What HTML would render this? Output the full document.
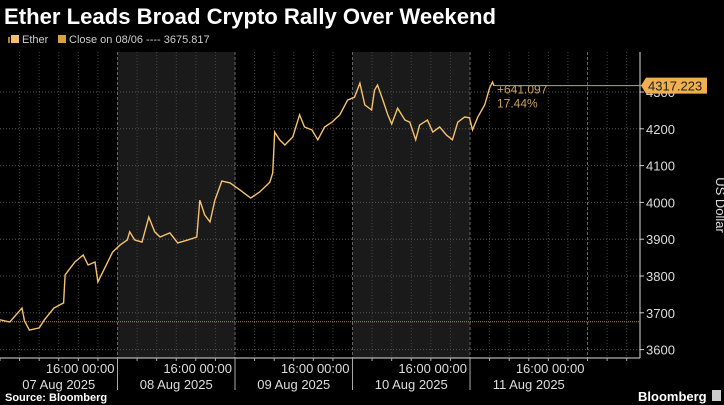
<!DOCTYPE html>
<html><head><meta charset="utf-8"><style>
body{margin:0;background:#000;width:724px;height:405px;overflow:hidden;font-family:"Liberation Sans",sans-serif}
svg{display:block}
</style></head><body>
<svg id="c" width="724" height="405" xmlns="http://www.w3.org/2000/svg">
<text x="4" y="24" fill="#fff" font-size="22" font-weight="bold" textLength="492" lengthAdjust="spacingAndGlyphs">Ether Leads Broad Crypto Rally Over Weekend</text>
<g font-size="11" fill="#ccc">
<rect x="8" y="37" width="2" height="6" fill="#b08040"/>
<rect x="11" y="35" width="8" height="8" fill="#f0c070"/>
<text x="22" y="43">Ether</text>
<rect x="58" y="35" width="8" height="8" fill="#d9a040"/>
<text x="69" y="43">Close on 08/06 ---- 3675.817</text>
</g>
<g id="plot"></g>
<text x="5" y="401" fill="#fff" font-size="11" font-weight="bold">Source: Bloomberg</text>
<text x="638" y="401" fill="#fff" font-size="13" font-weight="bold">Bloomberg</text>
<rect x="712" y="390" width="9" height="11" fill="#ccc"/>
</svg>
<script>
const hours=[0,2,4.5,5,6,8,9,11,13,13.3,15.3,17,18,19.4,20,21.4,23,24.5,26,26.5,27.5,29,30.4,31.6,32.7,34.7,36.3,38.4,40.2,40.8,41.8,42.9,43.9,45.3,47,49,51.2,53,55.1,55.7,56.1,57.1,58.2,59.8,61.2,62.2,63.7,64.9,66.3,67.8,69.4,71,72.4,73.5,74.5,75.9,76.5,77.1,78.2,79.2,80,81.2,82.7,83.7,84.9,85.7,87.3,88.4,89.8,91.2,92.4,93.5,94.9,95.9,96.5,97.6,99,100,100.6,100.9];
const prices=[3681,3675,3713,3678,3653,3659,3680,3713,3727,3803,3838,3857,3830,3838,3784,3822,3865,3884,3898,3920,3898,3892,3960,3920,3906,3917,3890,3898,3906,4006,3966,3947,4006,4058,4053,4034,4012,4028,4055,4080,4191,4170,4156,4178,4238,4205,4197,4170,4205,4218,4238,4278,4286,4324,4265,4251,4305,4319,4278,4238,4213,4256,4224,4218,4170,4210,4224,4191,4205,4183,4170,4218,4232,4230,4197,4232,4265,4311,4327,4317.223];
const yTicks=[3600,3700,3800,3900,4000,4100,4200,4300];
const dayLabels=["07 Aug 2025","08 Aug 2025","09 Aug 2025","10 Aug 2025","11 Aug 2025"];
const prevClose=3675.817, lastVal=4317.223, change="+641.097", pct="17.44%";
const X=h=>h*4.896, Y=v=>92+(4300-v)*0.368;
const NS="http://www.w3.org/2000/svg", g=document.getElementById('plot');
function mk(t,a,p){const e=document.createElementNS(NS,t);for(const k in a)e.setAttribute(k,a[k]);(p||g).appendChild(e);return e;}
[1,3].forEach(d=>{const r=mk('rect',{x:X(d*24),y:52,width:X(24),height:306,fill:'#1a1a1a'});

});
for(let h=4;h<=128;h+=4){const l=mk('line',{x1:X(h),x2:X(h),y1:52,y2:358,stroke:h%24==0?'#666':'#444','stroke-dasharray':h%24==0?'3,2':'1,2'});

}
yTicks.forEach(v=>{const l=mk('line',{x1:0,x2:640,y1:Y(v),y2:Y(v),stroke:'#555','stroke-dasharray':'1,2'});


const t=mk('text',{x:646,y:Y(v)+5,fill:'#ddd','font-size':13});t.textContent=v;


mk('line',{x1:640,x2:644,y1:Y(v),y2:Y(v),stroke:'#ccc'});});
const cl=mk('line',{x1:0,x2:640,y1:Y(prevClose),y2:Y(prevClose),stroke:'#b08a40','stroke-dasharray':'1,1'});


mk('line',{x1:640,x2:640,y1:52,y2:358,stroke:'#ddd'});
mk('line',{x1:0,x2:640,y1:358,y2:358,stroke:'#ddd'});
for(let h=0;h<=128;h+=4)mk('line',{x1:X(h),x2:X(h),y1:358,y2:361,stroke:'#aaa'});
dayLabels.forEach((d,i)=>{
 const t1=mk('text',{x:X(i*24+24)-3,y:373,fill:'#ddd','font-size':13,'text-anchor':'end'});t1.textContent='16:00 00:00';
 
 
 const t2=mk('text',{x:X(i*24+12),y:389,fill:'#ddd','font-size':13,'text-anchor':'middle'});t2.textContent=d;
 
 
 if(i>0)mk('line',{x1:X(i*24),x2:X(i*24),y1:358,y2:390,stroke:'#aaa'});
});
const p=mk('polyline',{points:hours.map((h,i)=>X(h).toFixed(1)+','+Y(prices[i]).toFixed(1)).join(' '),fill:'none',stroke:'#f5c16c','stroke-width':1.4});


const lx=X(hours[hours.length-1]);
mk('line',{x1:lx,x2:646,y1:Y(lastVal),y2:Y(lastVal),stroke:'#c8a060'});
const tag=mk('path',{d:`M641 ${Y(lastVal)} L646 ${Y(lastVal)-8} H707 V${Y(lastVal)+8} H646 Z`,fill:'#f0b050'});


const tv=mk('text',{x:648,y:Y(lastVal)+5,fill:'#222','font-size':13});tv.textContent=lastVal.toFixed(3);


const a1=mk('text',{x:lx+3,y:Y(lastVal)+8,fill:'#c8a060','font-size':12});a1.textContent=change;


const a2=mk('text',{x:lx+3,y:Y(lastVal)+22,fill:'#c8a060','font-size':12});a2.textContent=pct;


const yt=mk('text',{x:0,y:0,fill:'#ddd','font-size':13,'text-anchor':'middle',transform:'translate(716,205) rotate(90)'});yt.textContent='US Dollar';


</script>
</body></html>
